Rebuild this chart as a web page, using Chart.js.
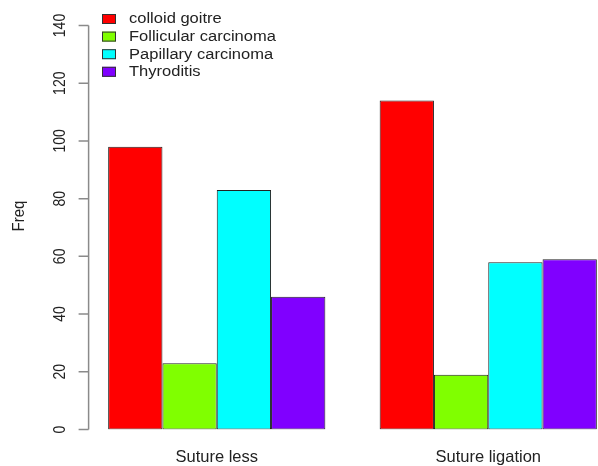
<!DOCTYPE html>
<html>
<head>
<meta charset="utf-8">
<script src="https://cdn.jsdelivr.net/npm/chart.js@4/dist/chart.umd.min.js"></script>
<style>
  html, body { margin: 0; padding: 0; background: #fff; overflow: hidden; }
  #wrap { position: relative; width: 640px; height: 466px; }
</style>
</head>
<body>
<div id="wrap"><canvas id="freqChart"></canvas></div>
<script>
// ===== DATA =====
const groups     = ["Suture less", "Suture ligation"];
const diagnoses  = ["colloid goitre", "Follicular carcinoma", "Papillary carcinoma", "Thyroditis"];
const colloid    = [98, 114];
const follicular = [23, 19];
const papillary  = [83, 58];
const thyroditis = [46, 59];
const yTicks     = [0, 20, 40, 60, 80, 100, 120, 140];

// rainbow(4)
const colors = ["#ff0000", "#80ff00", "#00ffff", "#8000ff"];
const series = [colloid, follicular, papillary, thyroditis];

const FONT = "'Liberation Sans', Arial, Helvetica, sans-serif";
const TEXT = "#222";

// base-graphics style y axis, y label and legend
const rStyle = {
  id: "rStyle",
  afterDraw(chart) {
    const ctx = chart.ctx;
    const xs = chart.scales.x, ys = chart.scales.y;
    const cw = xs.getPixelForValue(1) - xs.getPixelForValue(0);
    const barW = cw * 0.8 / diagnoses.length;
    const axisX = xs.getPixelForValue(0) - cw * 0.4 - 0.36 * barW;

    ctx.save();
    // axis line + ticks
    ctx.strokeStyle = "#8a8a8a";
    ctx.lineWidth = 1.5;
    ctx.beginPath();
    ctx.moveTo(axisX, ys.getPixelForValue(yTicks[0]));
    ctx.lineTo(axisX, ys.getPixelForValue(yTicks[yTicks.length - 1]));
    yTicks.forEach(v => {
      const py = ys.getPixelForValue(v);
      ctx.moveTo(axisX, py);
      ctx.lineTo(axisX - 10, py);
    });
    ctx.stroke();

    // tick labels, rotated
    ctx.fillStyle = TEXT;
    ctx.font = "14px " + FONT;
    ctx.textAlign = "center";
    ctx.textBaseline = "middle";
    yTicks.forEach(v => {
      ctx.save();
      ctx.translate(axisX - 28, ys.getPixelForValue(v));
      ctx.scale(1.2, 1);
      ctx.rotate(-Math.PI / 2);
      ctx.fillText(String(v), 0, 0);
      ctx.restore();
    });

    // y title
    ctx.save();
    ctx.font = "15px " + FONT;
    ctx.translate(19, ys.getPixelForValue(74));
    ctx.scale(1.1, 1);
    ctx.rotate(-Math.PI / 2);
    ctx.fillText("Freq", 0, 0);
    ctx.restore();

    // legend
    ctx.font = "14px " + FONT;
    ctx.textAlign = "left";
    chart.data.datasets.forEach((ds, i) => {
      const cy = 19 + i * 17.6;
      ctx.fillStyle = ds.backgroundColor;
      ctx.fillRect(102, cy - 5, 14, 10);
      ctx.strokeStyle = "#333";
      ctx.lineWidth = 1;
      ctx.strokeRect(102.5, cy - 4.5, 13, 9);
      ctx.save();
      ctx.translate(129, cy);
      ctx.scale(1.18, 1);
      ctx.fillStyle = TEXT;
      ctx.fillText(ds.label, 0, 0.5);
      ctx.restore();
    });
    ctx.restore();
  }
};

window.addEventListener("load", () => {
  new Chart(document.getElementById("freqChart"), {
    type: "bar",
    data: {
      labels: groups,
      datasets: diagnoses.map((name, i) => ({
        label: name,
        data: series[i],
        backgroundColor: colors[i],
        borderColor: "#222",
        borderWidth: 1,
        borderSkipped: false,
        categoryPercentage: 0.8,
        barPercentage: 1.0
      }))
    },
    options: {
      responsive: true,
      maintainAspectRatio: false,
      animation: false,
      layout: { padding: { left: 81, right: 16, top: 25.5, bottom: 0 } },
      plugins: {
        legend: { display: false },
        tooltip: { enabled: false }
      },
      scales: {
        x: {
          grid: { display: false, drawTicks: false },
          border: { display: false },
          afterFit: s => { s.height = 36.5; },
          ticks: {
            color: TEXT,
            padding: 18,
            font: { family: FONT, size: 16.5 }
          }
        },
        y: {
          display: false,
          min: 0,
          max: 140
        }
      }
    },
    plugins: [rStyle]
  });
});
</script>
</body>
</html>
